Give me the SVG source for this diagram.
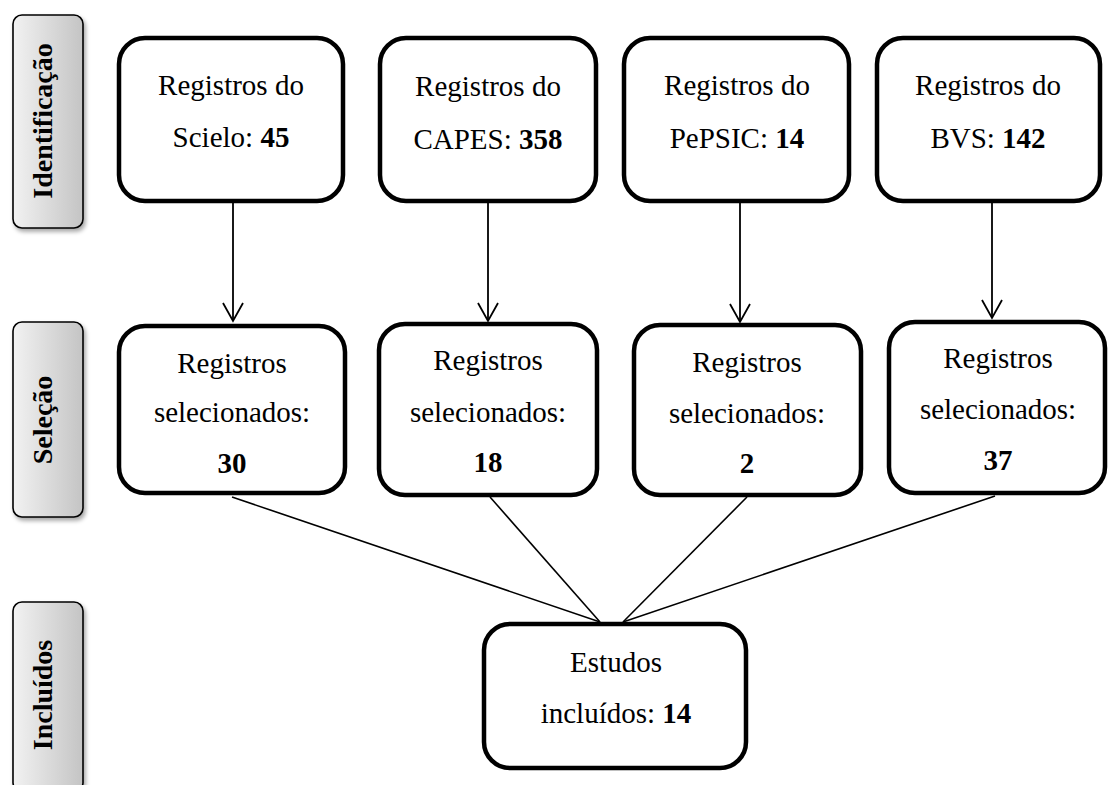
<svg xmlns="http://www.w3.org/2000/svg" width="1110" height="785" viewBox="0 0 1110 785">
<defs>
<style>
.box{fill:#fff;stroke:#000;stroke-width:4.5}
.side{fill:url(#grad);stroke:#000;stroke-width:1.6;filter:url(#sh)}
.t{font-family:"Liberation Serif","Times New Roman",serif;font-size:29px;fill:#000;text-anchor:middle}
.b{font-weight:bold}
.st{font-family:"Liberation Serif","Times New Roman",serif;font-size:28px;font-weight:bold;fill:#000;text-anchor:middle}
.arr{stroke:#000;stroke-width:1.8;fill:none;marker-end:url(#ah)}
.ln{stroke:#000;stroke-width:1.6;fill:none}
</style>
<linearGradient id="grad" x1="0" y1="0" x2="1" y2="0">
<stop offset="0" stop-color="#f2f2f2"/>
<stop offset="1" stop-color="#c4c4c4"/>
</linearGradient>
<filter id="sh" x="-30%" y="-10%" width="160%" height="130%">
<feDropShadow dx="2" dy="3" stdDeviation="2" flood-color="#000" flood-opacity="0.35"/>
</filter>
<marker id="ah" markerUnits="userSpaceOnUse" viewBox="-20 -12 22 24" refX="0" refY="0" markerWidth="22" markerHeight="24" orient="auto">
<path d="M-18,-10 L0,0 L-18,10" fill="none" stroke="#000" stroke-width="1.8"/>
</marker>
</defs>

<g id="side-identificacao">
<rect class="side" x="13" y="15" width="70" height="213" rx="9"/>
<text class="st" transform="translate(52,121) rotate(-90)">Identificação</text>
</g>
<g id="side-selecao">
<rect class="side" x="13" y="322" width="70" height="195" rx="9"/>
<text class="st" transform="translate(52,420) rotate(-90)">Seleção</text>
</g>
<g id="side-incluidos">
<rect class="side" x="13" y="602" width="70" height="190" rx="9"/>
<text class="st" transform="translate(52,695) rotate(-90)">Incluídos</text>
</g>

<g id="connectors">
<line class="arr" x1="233" y1="203" x2="233" y2="321"/>
<line class="arr" x1="488" y1="203" x2="488" y2="321"/>
<line class="arr" x1="740" y1="203" x2="740" y2="322"/>
<line class="arr" x1="992" y1="203" x2="992" y2="318"/>
<line class="ln" x1="232" y1="497" x2="600" y2="622"/>
<line class="ln" x1="490" y1="497" x2="600" y2="622"/>
<line class="ln" x1="747" y1="497" x2="623" y2="622"/>
<line class="ln" x1="995" y1="496" x2="623" y2="622"/>
</g>

<g id="n-scielo">
<rect class="box" x="119" y="38" width="224" height="163" rx="26"/>
<text class="t" x="231" y="95">Registros do</text>
<text class="t" x="231" y="147">Scielo: <tspan class="b">45</tspan></text>
</g>
<g id="n-capes">
<rect class="box" x="380" y="38" width="216" height="163" rx="26"/>
<text class="t" x="488" y="96">Registros do</text>
<text class="t" x="488" y="149">CAPES: <tspan class="b">358</tspan></text>
</g>
<g id="n-pepsic">
<rect class="box" x="624" y="38" width="225" height="163" rx="26"/>
<text class="t" x="737" y="95">Registros do</text>
<text class="t" x="737" y="148">PePSIC: <tspan class="b">14</tspan></text>
</g>
<g id="n-bvs">
<rect class="box" x="877" y="38" width="223" height="163" rx="26"/>
<text class="t" x="988" y="95">Registros do</text>
<text class="t" x="988" y="148">BVS: <tspan class="b">142</tspan></text>
</g>

<g id="s-scielo">
<rect class="box" x="119" y="326" width="226" height="167" rx="26"/>
<text class="t" x="232" y="373">Registros</text>
<text class="t" x="232" y="422">selecionados:</text>
<text class="t b" x="232" y="473">30</text>
</g>
<g id="s-capes">
<rect class="box" x="379" y="324" width="218" height="171" rx="26"/>
<text class="t" x="488" y="370">Registros</text>
<text class="t" x="488" y="422">selecionados:</text>
<text class="t b" x="488" y="472">18</text>
</g>
<g id="s-pepsic">
<rect class="box" x="634" y="325" width="227" height="170" rx="26"/>
<text class="t" x="747" y="372">Registros</text>
<text class="t" x="747" y="423">selecionados:</text>
<text class="t b" x="747" y="473">2</text>
</g>
<g id="s-bvs">
<rect class="box" x="889" y="322" width="216" height="171" rx="26"/>
<text class="t" x="998" y="368">Registros</text>
<text class="t" x="998" y="419">selecionados:</text>
<text class="t b" x="998" y="470">37</text>
</g>

<g id="incluidos">
<rect class="box" x="484" y="624" width="262" height="144" rx="26"/>
<text class="t" x="616" y="672">Estudos</text>
<text class="t" x="616" y="723">incluídos: <tspan class="b">14</tspan></text>
</g>
</svg>
